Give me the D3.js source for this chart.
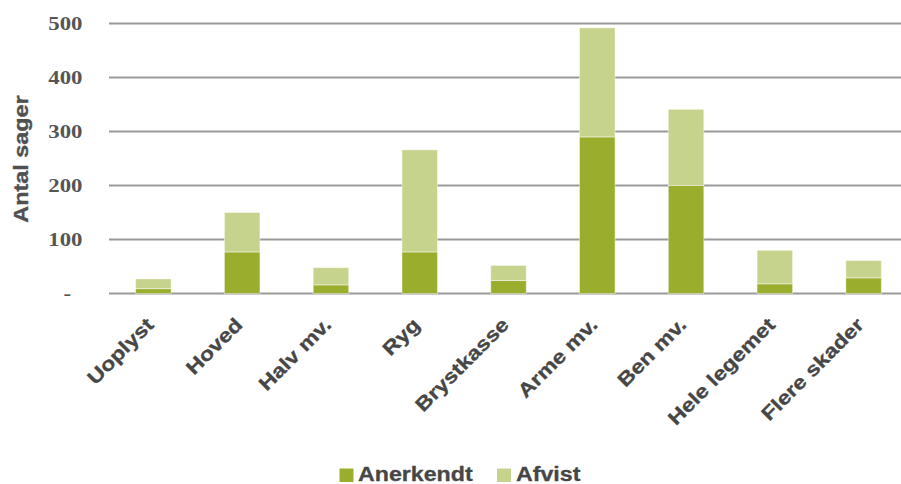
<!DOCTYPE html>
<html>
<head>
<meta charset="utf-8">
<script src="https://cdn.jsdelivr.net/npm/d3@7"></script>
<style>
  html, body { margin: 0; padding: 0; background: #fff; }
  svg { display: block; }
</style>
</head>
<body>
<svg id="chart" width="901" height="484"></svg>
<script>
const categories = ["Uoplyst", "Hoved", "Halv mv.", "Ryg", "Brystkasse", "Arme mv.", "Ben mv.", "Hele legemet", "Flere skader"];
const anerkendt = [9, 77, 16, 77, 24, 290, 200, 18, 29];
const afvist = [18, 73, 32, 189, 28, 202, 141, 62, 32];
const seriesNames = ["Anerkendt", "Afvist"];
const seriesColors = ["#9aad2c", "#c6d38c"];
const yTicks = [0, 100, 200, 300, 400, 500];
const yTickLabels = ["-", "100", "200", "300", "400", "500"];
const yTitle = "Antal sager";

const svg = d3.select("#chart");
const STRETCH = 1.18;
const textColor = "#464646";

const x = d3.scaleBand().domain(categories).range([109, 908]).paddingInner(0.6).paddingOuter(0.3);
const y = d3.scaleLinear().domain([0, 500]).range([293.5, 23.5]);

// gridlines
svg.append("g").selectAll("line").data(yTicks).join("line")
  .attr("x1", 109).attr("x2", 901)
  .attr("y1", d => y(d)).attr("y2", d => y(d))
  .attr("stroke", "#9a9a9a").attr("stroke-width", 2);

// y tick labels
svg.append("g").selectAll("text").data(yTicks).join("text")
  .attr("transform", (d, i) => `translate(${i === 0 ? 71 : 82.5},${y(d) + 6.5}) scale(1.2,1)`)
  .attr("text-anchor", "end")
  .attr("font-family", "'Liberation Serif', 'Times New Roman', serif")
  .attr("font-weight", "bold")
  .attr("font-size", 19)
  .attr("fill", "#555")
  .text((d, i) => yTickLabels[i]);

// y title
svg.append("text")
  .attr("transform", `translate(27.5,159) rotate(-90) scale(1.2,1)`)
  .attr("text-anchor", "middle")
  .attr("font-family", "'Liberation Sans', Arial, sans-serif")
  .attr("font-weight", "bold")
  .attr("font-size", 19.5)
  .attr("fill", "#505050")
  .attr("stroke", "#505050").attr("stroke-width", 0.35)
  .text(yTitle);

// stacked data
const data = categories.map((c, i) => ({ cat: c, Anerkendt: anerkendt[i], Afvist: afvist[i] }));
const stack = d3.stack().keys(seriesNames)(data);

svg.append("g").selectAll("g").data(stack).join("g")
  .attr("fill", (d, i) => seriesColors[i])
  .selectAll("rect").data(d => d).join("rect")
  .attr("x", d => x(d.data.cat))
  .attr("width", x.bandwidth())
  .attr("y", d => y(d[1]))
  .attr("height", d => y(d[0]) - y(d[1]))
  .attr("stroke", "rgba(255,255,255,0.45)")
  .attr("stroke-width", 1);

// x labels
svg.append("g").selectAll("text").data(categories).join("text")
  .attr("transform", d => `translate(${x(d) + x.bandwidth() / 2 + 1.5},326) rotate(-45) scale(${STRETCH},1)`)
  .attr("text-anchor", "end")
  .attr("font-family", "'Liberation Sans', Arial, sans-serif")
  .attr("font-weight", "bold")
  .attr("font-size", 19.5)
  .attr("fill", textColor)
  .attr("stroke", textColor).attr("stroke-width", 0.3)
  .text(d => d);

// legend
const legendItems = [
  { name: seriesNames[0], color: seriesColors[0], sx: 339.5, tx: 358 },
  { name: seriesNames[1], color: seriesColors[1], sx: 497, tx: 516 }
];
const lg = svg.append("g");
lg.selectAll("rect").data(legendItems).join("rect")
  .attr("x", d => d.sx).attr("y", 468.5).attr("width", 14).attr("height", 13.5)
  .attr("fill", d => d.color);
lg.selectAll("text").data(legendItems).join("text")
  .attr("transform", d => `translate(${d.tx},480.5) scale(1.16,1)`)
  .attr("font-family", "'Liberation Sans', Arial, sans-serif")
  .attr("font-weight", "bold")
  .attr("font-size", 20)
  .attr("fill", textColor)
  .attr("stroke", textColor).attr("stroke-width", 0.3)
  .text(d => d.name);
</script>
</body>
</html>
